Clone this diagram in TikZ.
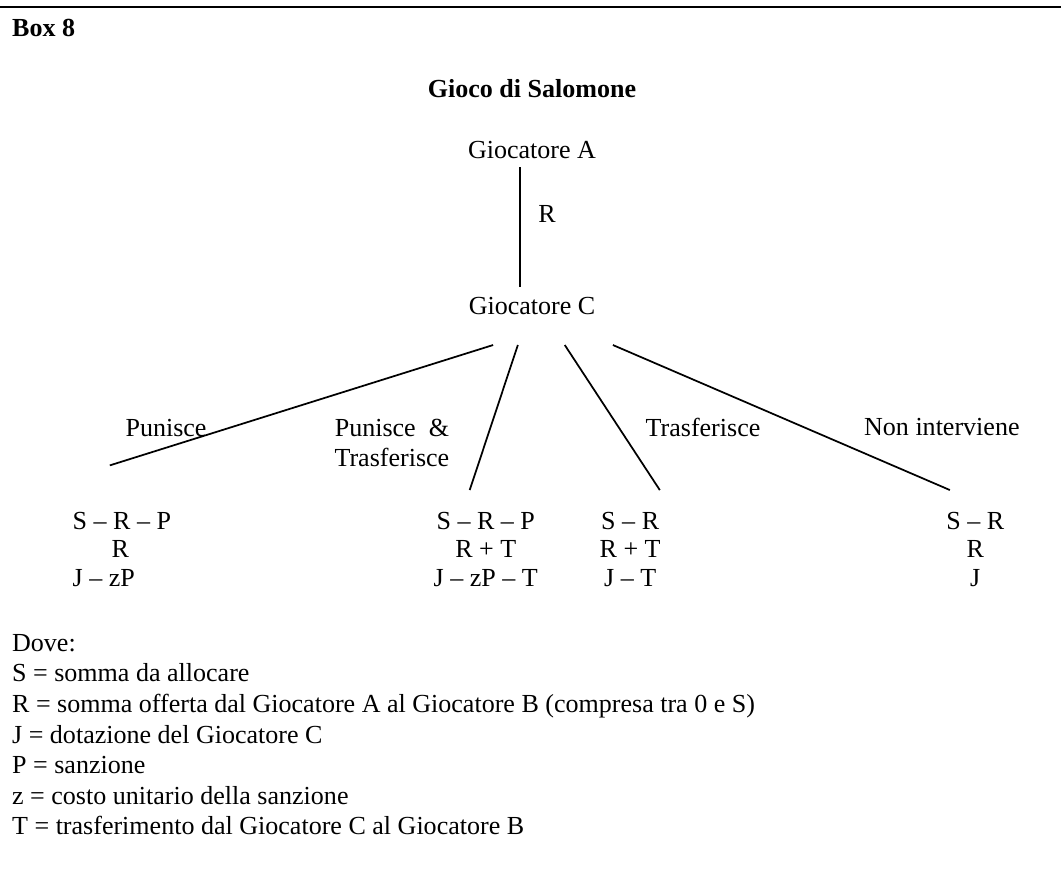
\documentclass[12pt,tikz,border=0pt]{standalone}
\usepackage{fontspec}
\setmainfont{Liberation Serif}
\usetikzlibrary{positioning}

\begin{document}
\begin{tikzpicture}[
          txt/.style={font=\fontsize{12}{13.8}\selectfont, inner sep=0pt},
          pay/.style={txt, align=center, font=\fontsize{12}{13.15}\selectfont},
          branch/.style={line width=0.8pt}
        ]
        \useasboundingbox (0,0) rectangle (17.19,14.18);
        % frame and heading
        \draw[line width=0.9pt] (0,14.07) -- (17.19,14.07);
        \node[txt, font=\fontsize{12}{13.8}\selectfont\bfseries, anchor=west] (boxno) at (0.19,13.72) {Box 8};
        \node[txt, font=\fontsize{12}{13.8}\selectfont\bfseries] (title) at (8.62,12.75) {Gioco di Salomone};

        % players
        \node[txt] (gA) at (8.62,11.75) {Giocatore A};
        \node[txt] (gC) at (8.62,9.22) {Giocatore C};
        \draw[branch] ([xshift=-0.19cm, yshift=-0.13cm]gA.south) -- ([xshift=-0.19cm, yshift=0.165cm]gC.north)
              node[pos=0.39, right=0.28cm, txt] (offer) {R};

        % payoffs
        \node[pay, align=left, anchor=west] (pay1) at (1.17,5.28) {S -- R -- P\\\hspace*{18pt}R\\J -- zP};
        \node[pay] (pay2) at (7.87,5.28) {S -- R -- P\\R + T\\J -- zP -- T};
        \node[pay] (pay3) at (10.21,5.28) {S -- R\\R + T\\J -- T};
        \node[pay] (pay4) at (15.80,5.28) {S -- R\\R\\J};

        % choices of C
        \draw[branch] ([shift={(-0.63,-0.63)}]gC.center) -- ([shift={(0.61,1.36)}]pay1.west);
        \draw[branch] ([shift={(-0.23,-0.63)}]gC.center) -- ([shift={(-0.26,0.96)}]pay2.center);
        \draw[branch] ([shift={(0.53,-0.63)}]gC.center) -- ([shift={(0.48,0.96)}]pay3.center);
        \draw[branch] ([shift={(1.31,-0.63)}]gC.center) -- ([shift={(-0.41,0.96)}]pay4.center);

        \node[txt] (punish) at (2.69,7.24) {Punisce};
        \node[txt, align=center] (both) at (6.35,7.00) {Punisce\ \ \&\\Trasferisce};
        \node[txt] (transfer) at (11.39,7.26) {Trasferisce};
        \node[txt] (none) at (15.26,7.26) {Non interviene};

        % legend
        \node[txt, align=left, anchor=north west, font=\fontsize{12}{14.1}\selectfont] (legend) at (0.19,3.91)
              {Dove:\\S = somma da allocare\\R = somma offerta dal Giocatore A al Giocatore B (compresa tra 0 e S)\\J = dotazione del Giocatore C\\P = sanzione\\z = costo unitario della sanzione\\T = trasferimento dal Giocatore C al Giocatore B};
      \end{tikzpicture}
\end{document}
